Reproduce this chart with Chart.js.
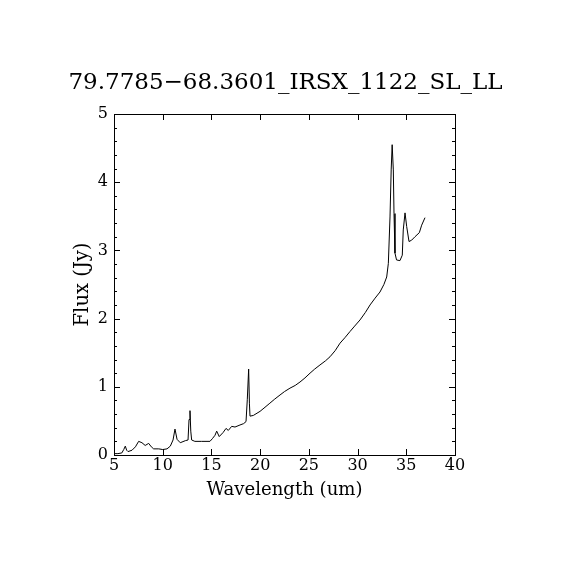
<!DOCTYPE html>
<html>
<head>
<meta charset="utf-8">
<script src="https://cdn.jsdelivr.net/npm/chart.js@4/dist/chart.umd.min.js"></script>
<style>
  html, body { margin: 0; padding: 0; background: #fff; }
  canvas { display: block; }
</style>
</head>
<body>
<canvas id="spec" width="570" height="570"></canvas>
<script>
// spectrum: wavelength (um) and flux (Jy)
const wavelength = [
  5.0, 5.4, 5.8, 6.0, 6.16, 6.3, 6.44, 6.85, 7.2, 7.53, 7.87, 8.2, 8.56, 8.83, 9.07, 9.59,
  10.0, 10.44, 10.78, 11.06, 11.26, 11.47, 11.8, 12.32, 12.6, 12.7, 12.8, 12.88, 12.97,
  13.3, 14.0, 14.85, 15.1, 15.37, 15.54, 15.8, 16.2, 16.5, 16.73, 17.08, 17.42, 17.93,
  18.3, 18.55, 18.68, 18.82, 18.9, 18.96, 19.3, 19.99, 20.5, 21.0, 21.5, 22.04, 22.5,
  23.06, 23.6, 24.09, 24.6, 25.12, 25.6, 26.14, 26.7, 27.17, 27.7, 28.2, 28.7, 29.22,
  29.7, 30.25, 30.8, 31.28, 31.8, 32.3, 32.7, 32.99, 33.16, 33.33, 33.45, 33.55, 33.67,
  33.74, 33.84, 34.0, 34.35, 34.59, 34.69, 34.87, 35.04, 35.28, 35.55, 35.89, 36.34,
  36.58, 36.92
];
const flux = [
  0.02, 0.02, 0.03, 0.08, 0.13, 0.07, 0.05, 0.07, 0.12, 0.20, 0.18, 0.14, 0.17, 0.12, 0.09, 0.09,
  0.08, 0.09, 0.13, 0.22, 0.38, 0.23, 0.18, 0.21, 0.22, 0.52, 0.65, 0.35, 0.22,
  0.20, 0.20, 0.20, 0.24, 0.29, 0.35, 0.27, 0.33, 0.39, 0.36, 0.42, 0.41, 0.44,
  0.46, 0.49, 0.81, 1.26, 0.75, 0.57, 0.58, 0.64, 0.70, 0.76, 0.82, 0.88, 0.93,
  0.98, 1.02, 1.07, 1.13, 1.20, 1.26, 1.32, 1.38, 1.44, 1.53, 1.64, 1.72, 1.81,
  1.89, 1.98, 2.09, 2.20, 2.30, 2.39, 2.50, 2.61, 2.81, 3.49, 4.18, 4.55, 4.18,
  3.54, 2.96, 2.86, 2.85, 2.93, 3.30, 3.55, 3.35, 3.13, 3.15, 3.20, 3.26,
  3.37, 3.48
];

const xTicks = [5, 10, 15, 20, 25, 30, 35, 40];
const yTicks = [0, 1, 2, 3, 4, 5];
const yMinorStep = 0.2;

const titleText = '79.7785\u221268.3601_IRSX_1122_SL_LL';
const xLabel = 'Wavelength (um)';
const yLabel = 'Flux (Jy)';

const FONT = '"DejaVu Serif", "Liberation Serif", serif';

// fit a string into a given width by picking the font size
function fitFont(ctx, text, width) {
  ctx.font = '100px ' + FONT;
  const w = ctx.measureText(text).width;
  return Math.round(100 * width / w * 10) / 10;
}

// frame, inward ticks on all four sides, titles
const framePlugin = {
  id: 'frame',
  afterDraw(chart) {
    const ctx = chart.ctx;
    const a = chart.chartArea;
    const xs = chart.scales.x;
    const ys = chart.scales.y;
    ctx.save();
    ctx.strokeStyle = '#000';
    ctx.lineWidth = 1;
    ctx.strokeRect(Math.round(a.left) + 0.5, Math.round(a.top) + 0.5,
      Math.round(a.right - a.left), Math.round(a.bottom - a.top));

    ctx.beginPath();
    xTicks.forEach(v => {
      const px = Math.round(xs.getPixelForValue(v)) + 0.5;
      ctx.moveTo(px, a.bottom); ctx.lineTo(px, a.bottom - 6);
      ctx.moveTo(px, a.top); ctx.lineTo(px, a.top + 6);
    });
    for (let i = 0; i <= 25; i++) {
      const v = i * yMinorStep;
      const len = (i % 5 === 0) ? 6 : 3;
      const py = Math.round(ys.getPixelForValue(v)) + 0.5;
      ctx.moveTo(a.left, py); ctx.lineTo(a.left + len, py);
      ctx.moveTo(a.right, py); ctx.lineTo(a.right - len, py);
    }
    ctx.stroke();

    ctx.fillStyle = '#000';
    // tick labels
    ctx.font = '16px ' + FONT;
    ctx.textAlign = 'center';
    ctx.textBaseline = 'top';
    xTicks.forEach(v => {
      ctx.fillText(String(v), xs.getPixelForValue(v), a.bottom + 3);
    });
    ctx.textAlign = 'right';
    ctx.textBaseline = 'middle';
    yTicks.forEach(v => {
      ctx.fillText(String(v), a.left - 6, ys.getPixelForValue(v));
    });

    const cx = (a.left + a.right) / 2;
    const cy = (a.top + a.bottom) / 2;

    // title
    ctx.textAlign = 'center';
    ctx.textBaseline = 'middle';
    ctx.font = fitFont(ctx, titleText, 435) + 'px ' + FONT;
    ctx.fillText(titleText, cx + 1, 83);

    // axis titles
    ctx.font = fitFont(ctx, xLabel, 156) + 'px ' + FONT;
    ctx.fillText(xLabel, cx, 490);

    ctx.save();
    ctx.translate(83, cy);
    ctx.rotate(-Math.PI / 2);
    ctx.font = fitFont(ctx, yLabel, 84) + 'px ' + FONT;
    ctx.fillText(yLabel, 0, 0);
    ctx.restore();

    ctx.restore();
  }
};

new Chart(document.getElementById('spec'), {
  type: 'line',
  data: {
    datasets: [{
      data: wavelength.map((w, i) => ({ x: w, y: flux[i] })),
      borderColor: '#000',
      borderWidth: 1,
      pointRadius: 0,
      tension: 0,
      fill: false
    }]
  },
  options: {
    responsive: false,
    animation: false,
    devicePixelRatio: 1,
    layout: { padding: { left: 0, top: 114, right: 115, bottom: 0 } },
    plugins: {
      legend: { display: false },
      tooltip: { enabled: false }
    },
    scales: {
      x: {
        type: 'linear',
        min: 5,
        max: 40,
        grid: { display: false },
        border: { display: false },
        ticks: { display: false },
        afterFit(scale) { scale.height = 115; }
      },
      y: {
        min: 0,
        max: 5,
        grid: { display: false },
        border: { display: false },
        ticks: { display: false },
        afterFit(scale) { scale.width = 114; }
      }
    }
  },
  plugins: [framePlugin]
});
</script>
</body>
</html>
